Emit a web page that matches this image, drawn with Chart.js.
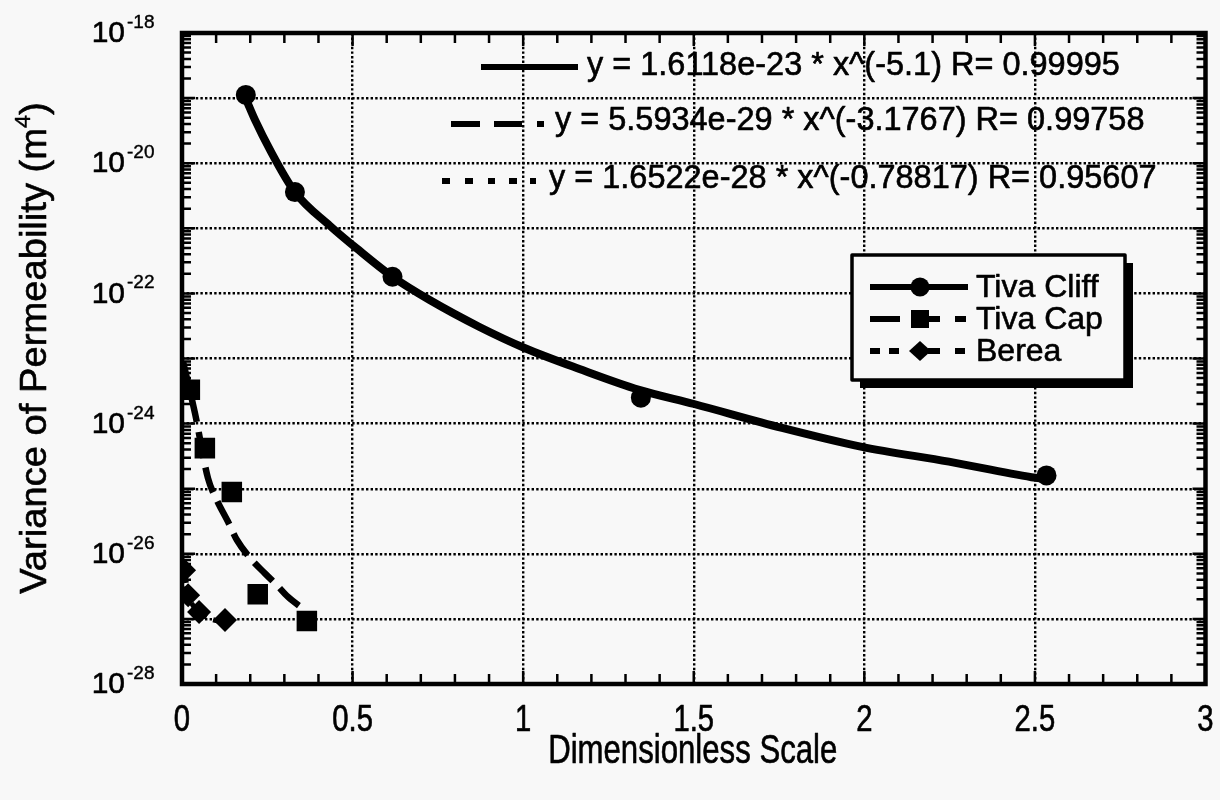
<!DOCTYPE html>
<html><head><meta charset="utf-8">
<script src="https://cdn.jsdelivr.net/npm/chart.js@4.4.0/dist/chart.umd.min.js"></script>
<style>html,body{margin:0;padding:0;background:#f8f8f8;}#wrap{width:1220px;height:800px;position:relative;}</style>
</head><body><div id="wrap"><canvas id="c" width="1220" height="800"></canvas></div>
<script>
const FONT = '"Liberation Sans", Arial, Helvetica, sans-serif';

// tick labels / positions
const xTicks = [0, 0.5, 1, 1.5, 2, 2.5, 3];
const xTickLabels = ['0', '0.5', '1', '1.5', '2', '2.5', '3'];
const yGridExps = [-28, -27, -26, -25, -24, -23, -22, -21, -20, -19, -18];
const yLabelExps = [-28, -26, -24, -22, -20, -18];

// measured points
const cliffX = [0.187, 0.331, 0.617, 1.345, 2.534];
const cliffY = [1.12e-19, 3.6e-21, 1.8e-22, 2.5e-24, 1.6e-25];
const capX = [0.023, 0.067, 0.146, 0.222, 0.366];
const capY = [3.3e-24, 4.2e-25, 8.9e-26, 2.4e-27, 9.3e-28];
const bereaX = [0.006, 0.018, 0.050, 0.126];
const bereaY = [5.6e-27, 2.3e-27, 1.28e-27, 9.6e-28];

// fitted curves
const cliffFitX = [0.19, 0.215, 0.258, 0.331, 0.433, 0.512, 0.617, 0.726, 0.872, 1.004, 1.165, 1.340, 1.501, 1.759, 1.993, 2.248, 2.490, 2.534];
const cliffFitY = [9e-20, 4.5e-20, 1.6e-20, 3.6e-21, 1.1e-21, 4.9e-22, 1.8e-22, 7.9e-23, 3.05e-23, 1.45e-23, 6.9e-24, 3.3e-24, 2.0e-24, 8.6e-25, 4.4e-25, 2.6e-25, 1.5e-25, 1.4e-25];
const capFitX = [0.003, 0.038, 0.076, 0.102, 0.135, 0.161, 0.199, 0.243, 0.278, 0.310, 0.360];
const capFitY = [8.9e-24, 1.45e-24, 1.46e-25, 6.7e-26, 3.1e-26, 1.63e-26, 8.7e-27, 5.0e-27, 3.3e-27, 2.2e-27, 1.37e-27];
const bereaFitX = [0.004, 0.018, 0.050, 0.130];
const bereaFitY = [7.5e-27, 2.5e-27, 1.3e-27, 8.5e-28];

const seriesNames = ['Tiva Cliff', 'Tiva Cap', 'Berea'];
const equations = [
  'y = 1.6118e-23 * x^(-5.1) R= 0.99995',
  'y = 5.5934e-29 * x^(-3.1767) R= 0.99758',
  'y = 1.6522e-28 * x^(-0.78817) R= 0.95607'
];
const xTitle = 'Dimensionless Scale';
const yTitle = 'Variance of Permeability (m';
const yTitleSup = '4';

const pts = (xs, ys) => xs.map((x, i) => ({x: x, y: ys[i]}));
const GRID_DASH = [2.4, 2.2];

function txt(c, s, x, y, bold) {
  c.fillText(s, x, y);
  c.lineWidth = bold || 0.7; c.strokeText(s, x, y);
}

const deco = {
  id: 'deco',
  beforeDraw(chart) {
    const c = chart.ctx;
    c.save(); c.fillStyle = '#f8f8f8'; c.fillRect(0, 0, chart.width, chart.height); c.restore();
  },
  beforeDatasetsDraw(chart) {
    const c = chart.ctx, a = chart.chartArea, xs = chart.scales.x, ys = chart.scales.y;
    c.save();
    c.strokeStyle = '#000'; c.lineWidth = 2.5; c.lineCap = 'butt';
    c.beginPath();
    for (let e = -28; e < -18; e++) {
      for (let k = 1; k <= 9; k++) {
        const p = ys.getPixelForValue(k * Math.pow(10, e));
        const len = k === 1 ? 13 : 9;
        c.moveTo(a.left, p); c.lineTo(a.left + len, p);
        c.moveTo(a.right, p); c.lineTo(a.right - len, p);
      }
    }
    for (let i = 1; i < 30; i++) {
      const p = xs.getPixelForValue(i / 10);
      const len = (i % 5 === 0) ? 13 : 10;
      c.moveTo(p, a.bottom); c.lineTo(p, a.bottom - len);
      c.moveTo(p, a.top); c.lineTo(p, a.top + len);
    }
    c.stroke();
    c.lineWidth = 4.5;
    c.strokeRect(a.left, a.top, a.right - a.left, a.bottom - a.top);
    c.restore();
  },
  afterDraw(chart) {
    const c = chart.ctx, xs = chart.scales.x, ys = chart.scales.y, a = chart.chartArea;
    c.save();
    c.fillStyle = '#000'; c.strokeStyle = '#000'; c.lineJoin = 'round';
    // x tick labels
    c.font = '34px ' + FONT; c.textAlign = 'center'; c.textBaseline = 'middle';
    xTicks.forEach((v, i) => {
      const p = xs.getPixelForValue(v);
      c.save(); c.translate(p, 721); c.scale(0.86, 1.06);
      txt(c, xTickLabels[i], 0, 0, 0.6);
      c.restore();
    });
    // x title
    c.save(); c.translate((a.left + a.right) / 2 - 1, 752); c.scale(0.82, 1.06);
    c.font = '38px ' + FONT;
    txt(c, xTitle, 0, 0, 0.6);
    c.restore();
    // y tick labels 10^n
    yLabelExps.forEach(e => {
      const p = ys.getPixelForValue(Math.pow(10, e));
      c.font = '30px ' + FONT; c.textAlign = 'right'; c.textBaseline = 'middle';
      txt(c, '10', 125, p + 1, 0.6);
      c.font = '19px ' + FONT; c.textAlign = 'left'; c.textBaseline = 'alphabetic';
      txt(c, String(e), 127, p - 5, 0.4);
    });
    // y title
    c.save();
    c.translate(36, 348); c.rotate(-Math.PI / 2); c.scale(1.06, 1);
    c.font = '36px ' + FONT;
    const w1 = c.measureText(yTitle).width;
    c.font = '22px ' + FONT;
    const w2 = c.measureText(yTitleSup).width;
    c.font = '36px ' + FONT;
    const w3 = c.measureText(')').width;
    const x0 = -(w1 + w2 + w3) / 2;
    c.textAlign = 'left'; c.textBaseline = 'middle';
    txt(c, yTitle, x0, 0, 0.6);
    c.font = '22px ' + FONT;
    txt(c, yTitleSup, x0 + w1, -12, 0.4);
    c.font = '36px ' + FONT;
    txt(c, ')', x0 + w1 + w2, 0, 0.6);
    c.restore();

    // equation rows
    c.lineCap = 'butt';
    const seg = (x1, x2, y) => { c.lineWidth = 6; c.beginPath(); c.moveTo(x1, y); c.lineTo(x2, y); c.stroke(); };
    seg(481, 578, 67);
    seg(451, 480, 124); seg(494, 522, 124); seg(537, 544, 124);
    [[442, 450], [465, 473], [488, 495], [509, 517], [530, 536]].forEach(d => seg(d[0], d[1], 181));
    c.font = '32px ' + FONT; c.textAlign = 'left'; c.textBaseline = 'middle';
    const eqX = [587, 555, 549], eqY = [66, 121, 179];
    equations.forEach((t, i) => {
      c.save(); c.translate(eqX[i], eqY[i]); c.scale(1.015, 1.06);
      txt(c, t, 0, 0, 0.6);
      c.restore();
    });

    // legend box
    const L = 852, T = 255, R = 1125, B = 380;
    c.fillStyle = '#000';
    c.fillRect(L + 8, T + 8, R - L, B - T);
    c.fillStyle = '#f8f8f8';
    c.fillRect(L, T, R - L, B - T);
    c.lineWidth = 3.5; c.strokeStyle = '#000';
    c.strokeRect(L, T, R - L, B - T);
    c.fillStyle = '#000';
    const ly = [287, 319, 351];
    seg(870, 968, ly[0]);
    c.beginPath(); c.arc(920, ly[0], 9.5, 0, Math.PI * 2); c.fill();
    seg(870, 900, ly[1]); seg(928, 940, ly[1]); seg(955, 966, ly[1]);
    c.fillRect(911, ly[1] - 9, 18, 18);
    seg(870, 880, ly[2]); seg(889, 899, ly[2]); seg(928, 940, ly[2]); seg(955, 965, ly[2]);
    c.beginPath(); c.moveTo(909, ly[2]); c.lineTo(920, ly[2] - 10); c.lineTo(931, ly[2]); c.lineTo(920, ly[2] + 10); c.closePath(); c.fill();
    c.font = '32px ' + FONT; c.textAlign = 'left'; c.textBaseline = 'middle';
    seriesNames.forEach((n, i) => txt(c, n, 976, ly[i] + 1, 0.6));
    c.restore();
  }
};

const gridOpts = {color: '#000', lineWidth: 2.4, drawTicks: false};

new Chart(document.getElementById('c'), {
  type: 'scatter',
  data: {
    datasets: [
      {label: seriesNames[0], data: pts(cliffX, cliffY), pointStyle: 'circle', pointRadius: 10, backgroundColor: '#000', borderColor: '#000', borderWidth: 0, order: 0},
      {label: seriesNames[1], data: pts(capX, capY), pointStyle: 'rect', pointRadius: 14.5, backgroundColor: '#000', borderColor: '#000', borderWidth: 0, order: 0},
      {label: seriesNames[2], data: pts(bereaX, bereaY), pointStyle: 'rectRot', pointRadius: 12, backgroundColor: '#000', borderColor: '#000', borderWidth: 0, order: 0},
      {label: seriesNames[0] + ' fit', data: pts(cliffFitX, cliffFitY), showLine: true, pointRadius: 0, borderColor: '#000', borderWidth: 8, cubicInterpolationMode: 'monotone', order: 1},
      {label: seriesNames[1] + ' fit', data: pts(capFitX, capFitY), showLine: true, pointRadius: 0, borderColor: '#000', borderWidth: 6.5, borderDash: [26, 10], cubicInterpolationMode: 'monotone', order: 1},
      {label: seriesNames[2] + ' fit', data: pts(bereaFitX, bereaFitY), showLine: true, pointRadius: 0, borderColor: '#000', borderWidth: 5, borderDash: [7, 7], cubicInterpolationMode: 'monotone', order: 1}
    ]
  },
  options: {
    responsive: false, animation: false,
    layout: {padding: {left: 0, top: 33, right: 13, bottom: 0}},
    plugins: {legend: {display: false}, tooltip: {enabled: false}},
    scales: {
      x: {
        type: 'linear', min: 0, max: 3, position: 'bottom',
        afterBuildTicks: s => { s.ticks = xTicks.map(v => ({value: v})); },
        afterFit: s => { s.height = 116; },
        ticks: {display: false},
        grid: gridOpts,
        border: {display: false, dash: GRID_DASH}
      },
      y: {
        type: 'logarithmic', min: 1e-28, max: 1e-18, position: 'left',
        afterBuildTicks: s => { s.ticks = yGridExps.map(e => ({value: Math.pow(10, e)})); },
        afterFit: s => { s.width = 182; },
        ticks: {display: false},
        grid: gridOpts,
        border: {display: false, dash: GRID_DASH}
      }
    }
  },
  plugins: [deco]
});
</script></body></html>
